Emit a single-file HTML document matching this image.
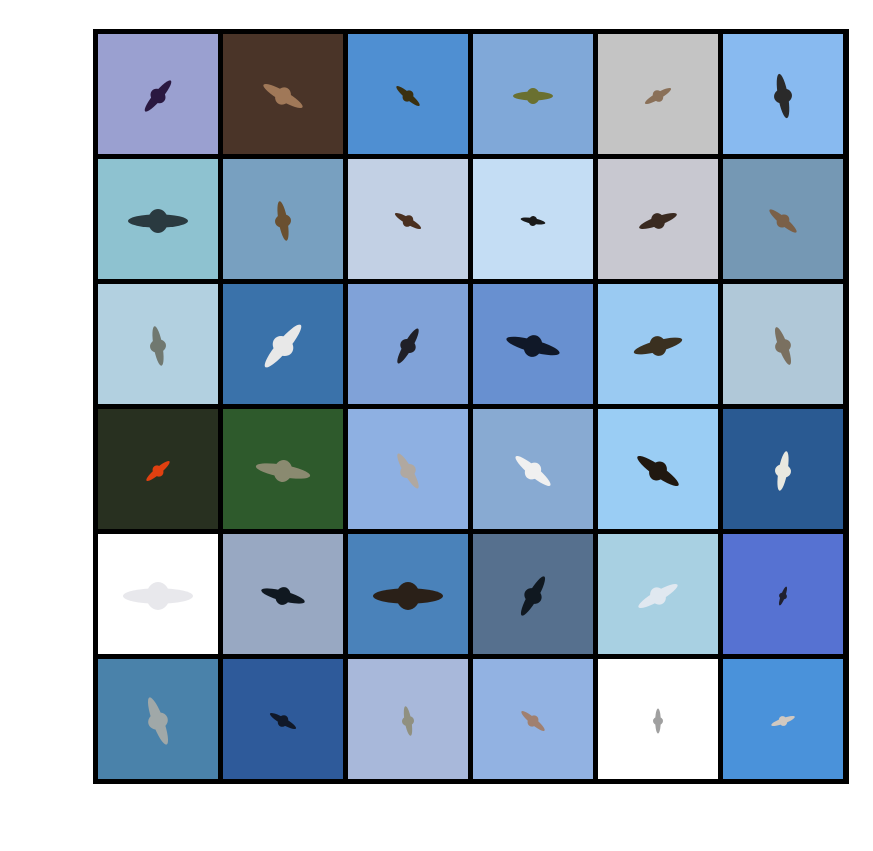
<!DOCTYPE html>
<html><head><meta charset="utf-8">
<style>
html,body{margin:0;padding:0;background:#fff;width:873px;height:851px;overflow:hidden;}
#grid{position:absolute;left:93px;top:29px;width:756px;height:755px;background:#000;}
.tile{position:absolute;width:120px;height:120px;overflow:hidden;}
.tile svg{position:absolute;left:0;top:0;}
</style></head><body>
<div id="grid"></div>
<script>
const bgColors = [
 ["#9aa0d0","#4a3428","#4f8fd2","#80a8d8","#c4c4c4","#88baf0"],
 ["#8ec2d0","#78a0c0","#c2d0e4","#c4ddf4","#c8c8d0","#7598b4"],
 ["#b2d0e0","#3a72aa","#80a2d8","#6890d0","#9acaf2","#b0c8d8"],
 ["#283020","#2e5a2c","#8eb0e2","#88aad2","#9acdf4","#2a5a92"],
 ["#ffffff","#98a8c2","#4a82ba","#56708e","#a8d0e2","#5672d2"],
 ["#4a82aa","#2e5a9a","#a8b8da","#92b2e2","#ffffff","#4a92da"]
];
const birdColors = [
 ["#2a1840","#a07858","#3a3010","#6a7030","#8a7058","#2a2a2a"],
 ["#2a3a40","#6a5030","#4a3020","#1a1a1a","#3a2a20","#7a6048"],
 ["#707870","#e8e8e8","#202028","#101828","#3a3020","#7a7060"],
 ["#e04010","#8a8a70","#b0a8a0","#f0f0f0","#201810","#e8e8e0"],
 ["#e8e8ec","#101820","#2a2018","#101820","#e0e8f0","#202030"],
 ["#a0a8a8","#101828","#909080","#a08070","#a0a0a0","#d0c8c0"]
];
const birdAngles = [
 [-50,30,40,0,-30,80],[0,80,30,10,-20,40],[80,-50,-60,15,-15,70],[-40,10,60,40,35,-80],[0,15,0,-60,-30,-70],[70,30,80,40,90,-20]
];
const birdSizes = [
 [40,45,30,40,30,45],[60,40,30,25,40,35],[40,55,40,55,50,40],[30,55,40,45,50,40],[70,45,70,45,45,20],[50,30,30,30,25,25]
];
const grid = document.getElementById('grid');
for (let r = 0; r < 6; r++) {
  for (let c = 0; c < 6; c++) {
    const t = document.createElement('div');
    t.className = 'tile';
    
    
    t.style.left = (5 + c * 125) + 'px';
    t.style.top = (5 + r * 125) + 'px';
    t.style.background = bgColors[r][c];
    const s = birdSizes[r][c], a = birdAngles[r][c], col = birdColors[r][c];
    t.innerHTML = '<svg width="120" height="120"><g transform="translate(60,62) rotate(' + a + ')">' +
      '<ellipse cx="0" cy="0" rx="' + (s/2) + '" ry="' + (s/9) + '" fill="' + col + '"/>' +
      '<ellipse cx="0" cy="0" rx="' + (s/6) + '" ry="' + (s/5) + '" fill="' + col + '"/>' +
      '</g></svg>';
    grid.appendChild(t);
  }
}
</script>
</body></html>
